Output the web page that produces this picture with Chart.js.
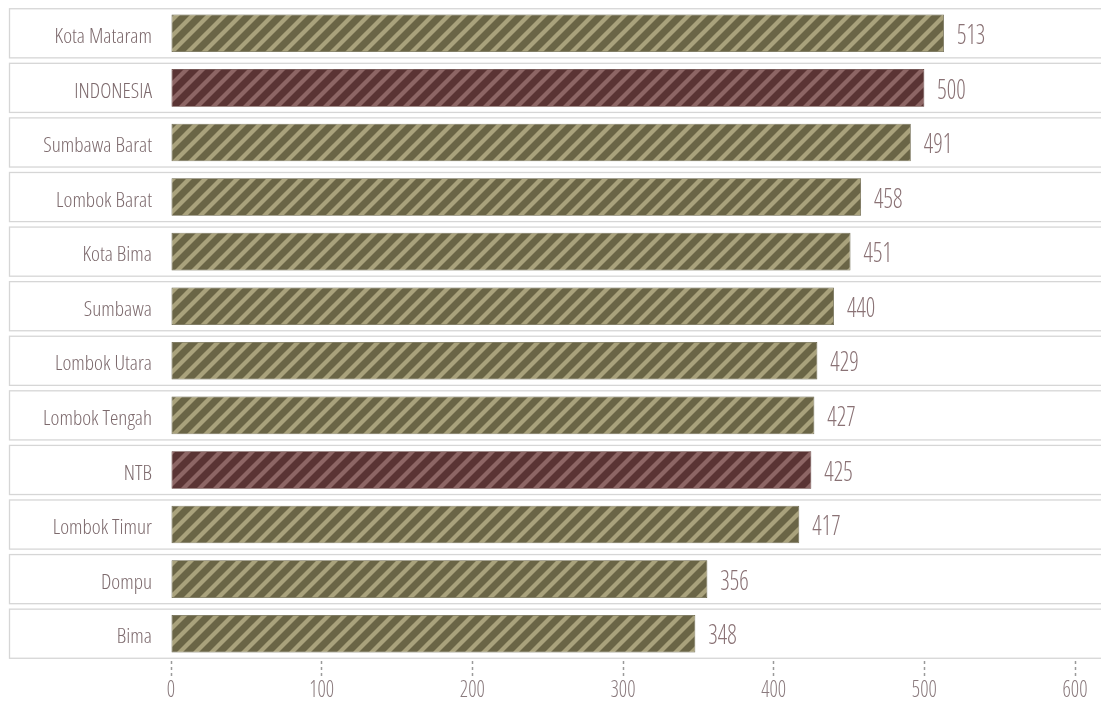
<!DOCTYPE html>
<html>
<head>
<meta charset="utf-8">
<script src="https://cdn.jsdelivr.net/npm/chart.js@4.4.1/dist/chart.umd.min.js"></script>
<style>
  html, body { margin: 0; padding: 0; background: #ffffff; }
  #wrap { width: 1101px; height: 702px; position: relative; }
</style>
</head>
<body>
<div id="wrap"><canvas id="c"></canvas></div>
<script>
const categories = ["Kota Mataram", "INDONESIA", "Sumbawa Barat", "Lombok Barat", "Kota Bima", "Sumbawa", "Lombok Utara", "Lombok Tengah", "NTB", "Lombok Timur", "Dompu", "Bima"];
const values = [513, 500, 491, 458, 451, 440, 429, 427, 425, 417, 356, 348];
const highlighted = ["INDONESIA", "NTB"];
const xTicks = [0, 100, 200, 300, 400, 500, 600];

const FONT = "'Open Sans', 'DejaVu Sans', sans-serif";

function stripePattern(dark, light) {
  const s = 16;
  const cv = document.createElement('canvas');
  cv.width = s; cv.height = s;
  const g = cv.getContext('2d');
  g.fillStyle = dark;
  g.fillRect(0, 0, s, s);
  g.strokeStyle = light;
  g.lineWidth = 4.3;
  g.lineCap = 'square';
  for (let k = -1; k <= 1; k++) {
    g.beginPath();
    g.moveTo(k * s - 1, s + 1);
    g.lineTo(k * s + s + 1, -1);
    g.stroke();
  }
  return g.createPattern(cv, 'repeat');
}

function drawText(c, text, x, y, size, align, color, sx) {
  c.save();
  c.font = '300 ' + size + 'px ' + FONT;
  try { c.fontStretch = 'condensed'; } catch (e) {}
  c.fillStyle = color;
  c.textBaseline = 'middle';
  c.textAlign = 'left';
  const w = c.measureText(text).width * sx;
  let left = x;
  if (align === 'right') left = x - w;
  else if (align === 'center') left = x - w / 2;
  c.translate(left, y);
  c.scale(sx, 1);
  c.fillText(text, 0, 0);
  c.restore();
}

const ctx = document.getElementById('c').getContext('2d');
const olive = stripePattern('#6a6546', '#a9a27c');
const maroon = stripePattern('#5a3434', '#8d6665');

const rowBoxes = {
  id: 'rowBoxes',
  beforeDraw(chart) {
    const y = chart.scales.y;
    const c = chart.ctx;
    const pitch = (y.getPixelForTick(1) - y.getPixelForTick(0));
    const h = pitch * 0.9;
    c.save();
    c.fillStyle = '#ffffff';
    c.strokeStyle = '#d6d6d6';
    c.lineWidth = 1.3;
    categories.forEach((_, i) => {
      const cy = y.getPixelForTick(i);
      c.fillRect(9.5, cy - h / 2, 1101, h);
      c.strokeRect(9.5, cy - h / 2, 1101, h);
    });
    c.restore();
  }
};

const textLayer = {
  id: 'textLayer',
  afterDatasetsDraw(chart) {
    const c = chart.ctx;
    const meta = chart.getDatasetMeta(0);
    const xs = chart.scales.x;
    const ys = chart.scales.y;
    meta.data.forEach((bar, i) => {
      drawText(c, String(values[i]), bar.x + 13, bar.y + 3, 27, 'left', '#8a7275', 0.86);
    });
    categories.forEach((lab, i) => {
      drawText(c, lab, 152, ys.getPixelForTick(i) + 4, 20, 'right', '#7d6a6d', 1.06);
    });
    xTicks.forEach(v => {
      drawText(c, String(v), xs.getPixelForValue(v), 690, 24, 'center', '#8a7a7d', 0.85);
    });
  }
};

new Chart(ctx, {
  type: 'bar',
  data: {
    labels: categories,
    datasets: [{
      data: values,
      backgroundColor: categories.map(c => highlighted.includes(c) ? maroon : olive),
      borderColor: categories.map(c => highlighted.includes(c) ? '#56322f' : '#625d40'),
      borderWidth: 0.8,
      borderSkipped: false,
      categoryPercentage: 1,
      barPercentage: 0.69
    }]
  },
  options: {
    indexAxis: 'y',
    responsive: true,
    maintainAspectRatio: false,
    animation: false,
    layout: { padding: { top: 6, right: 26, left: 0, bottom: 0 } },
    plugins: { legend: { display: false }, tooltip: { enabled: false } },
    scales: {
      x: {
        min: 0, max: 600,
        afterBuildTicks(scale) { scale.ticks = xTicks.map(v => ({ value: v })); },
        afterFit(scale) { scale.height = 41; scale.paddingLeft = 0; scale.paddingRight = 0; },
        border: { display: false },
        grid: {
          drawOnChartArea: false,
          drawTicks: true,
          tickLength: 16,
          tickBorderDash: [3, 3],
          tickColor: '#9a9a9a',
          tickWidth: 1.5
        },
        ticks: { display: false }
      },
      y: {
        afterFit(scale) { scale.width = 171; scale.paddingTop = 0; scale.paddingBottom = 0; },
        border: { display: false },
        grid: { display: false, drawTicks: false },
        ticks: { display: false }
      }
    }
  },
  plugins: [rowBoxes, textLayer]
});
</script>
</body>
</html>
